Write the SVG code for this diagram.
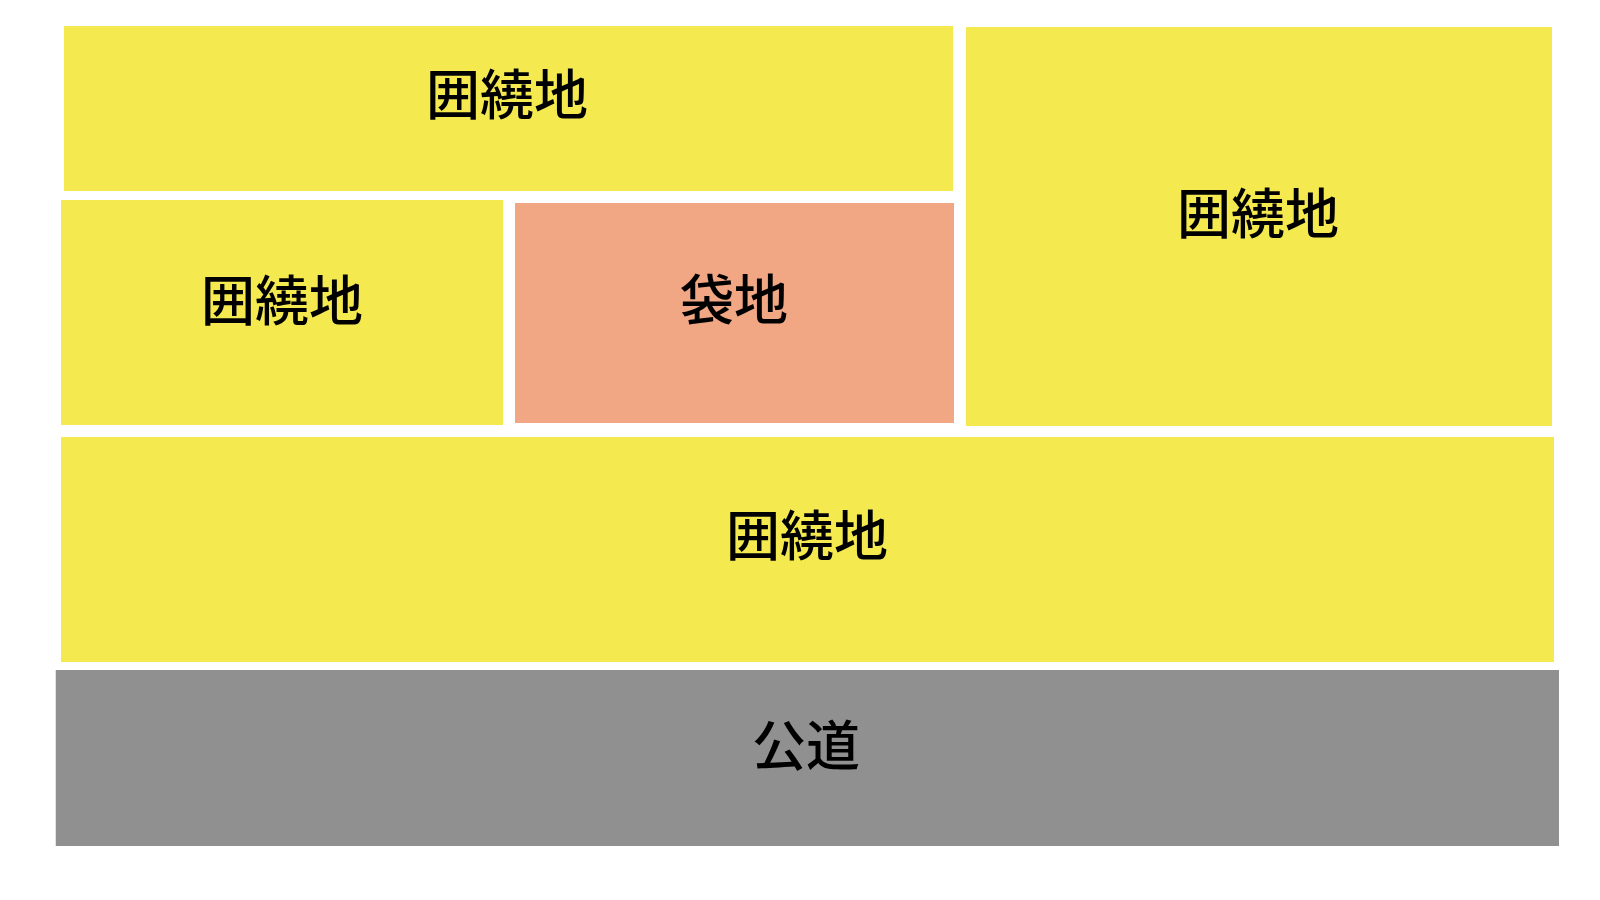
<svg xmlns="http://www.w3.org/2000/svg" width="1600" height="900" viewBox="0 0 1600 900">
<style>
.land{fill:#F4EA50}
.pocket{fill:#F2A784}
.road{fill:#909090}
.lbl{font-family:"Noto Sans CJK JP","Noto Sans CJK SC",sans-serif;font-size:54px;font-weight:500;fill:#000;text-anchor:middle;dominant-baseline:central}
</style>
<rect width="1600" height="900" fill="#ffffff"/>
<g id="enclosing-top">
<rect class="land" x="64" y="26" width="889" height="165"/>
<text class="lbl" x="507" y="91">囲繞地</text>
</g>
<g id="enclosing-left">
<rect class="land" x="61" y="200" width="442" height="225"/>
<text class="lbl" x="282" y="297">囲繞地</text>
</g>
<g id="pocket-land">
<rect class="pocket" x="515" y="203" width="439" height="220"/>
<text class="lbl" x="734" y="296">袋地</text>
</g>
<g id="enclosing-right">
<rect class="land" x="966" y="27" width="586" height="399"/>
<text class="lbl" x="1258" y="210">囲繞地</text>
</g>
<g id="enclosing-bottom">
<rect class="land" x="61" y="437" width="1493" height="225"/>
<text class="lbl" x="807" y="532">囲繞地</text>
</g>
<g id="public-road">
<rect class="road" x="55" y="670" width="1504" height="176"/>
<line x1="55.5" y1="670" x2="55.5" y2="846" stroke="#d6e6f0" stroke-width="1"/>
<text class="lbl" x="806" y="742">公道</text>
</g>
<g id="connectors"></g>
</svg>
